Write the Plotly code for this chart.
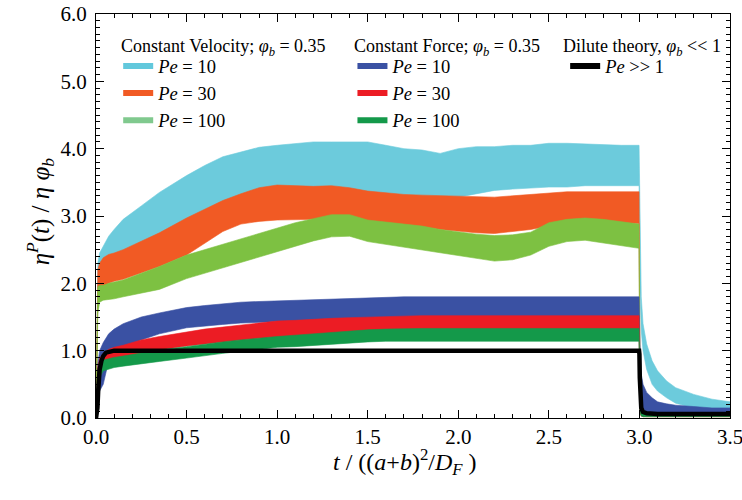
import plotly.graph_objects as go

# ---------------- data ----------------
T = [0, 0.004, 0.01, 0.02, 0.04, 0.07, 0.1, 0.15, 0.25, 0.35, 0.5, 0.6, 0.7, 0.8, 0.9,
     1.0, 1.1, 1.2, 1.3, 1.4, 1.5, 1.6, 1.7, 1.8, 1.9, 2.0, 2.1, 2.2, 2.3, 2.4, 2.5,
     2.6, 2.7, 2.8, 2.9, 2.998, 3.003, 3.01, 3.02, 3.04, 3.07, 3.1, 3.15, 3.2, 3.3, 3.4, 3.5]

# Constant velocity, Pe = 10 (noise band: lower / upper envelope)
CV10_LO = [0, 0.6, 1.7, 2.0, 2.05, 2.15, 2.2, 2.3, 2.45, 2.65, 2.9, 3.05, 3.2, 3.3, 3.35,
           3.38, 3.4, 3.4, 3.38, 3.35, 3.3, 3.28, 3.25, 3.23, 3.22, 3.28, 3.33, 3.38, 3.4, 3.42, 3.43,
           3.43, 3.45, 3.45, 3.45, 3.45, 1.9, 1.3, 1.0, 0.72, 0.5, 0.4, 0.3, 0.22, 0.15, 0.1, 0.08]
CV10_HI = [0, 1.4, 2.3, 2.45, 2.55, 2.7, 2.8, 2.95, 3.15, 3.35, 3.6, 3.75, 3.88, 3.95, 4.02,
           4.05, 4.08, 4.1, 4.1, 4.1, 4.1, 4.05, 4.0, 3.98, 3.93, 4.0, 4.03, 4.03, 4.05, 4.05, 4.08,
           4.08, 4.07, 4.05, 4.05, 4.05, 2.8, 1.8, 1.4, 1.1, 0.85, 0.7, 0.55, 0.45, 0.35, 0.28, 0.24]
# Constant velocity, Pe = 30
CV30_LO = [0, 0.5, 1.7, 1.9, 1.95, 2.0, 2.03, 2.06, 2.15, 2.25, 2.42, 2.6, 2.77, 2.88, 2.92,
           2.94, 2.95, 2.95, 2.95, 2.94, 2.92, 2.88, 2.86, 2.84, 2.8, 2.77, 2.75, 2.74, 2.77, 2.8, 2.85,
           2.89, 2.9, 2.9, 2.89, 2.89, 0.2, 0.04, 0.03, 0.02, 0.02, 0.02, 0.02, 0.02, 0.02, 0.02, 0.02]
CV30_HI = [0, 1.2, 2.2, 2.3, 2.38, 2.43, 2.45, 2.5, 2.62, 2.75, 2.97, 3.1, 3.23, 3.33, 3.42,
           3.46, 3.45, 3.44, 3.45, 3.42, 3.37, 3.34, 3.32, 3.31, 3.3, 3.29, 3.28, 3.28, 3.3, 3.32, 3.34,
           3.36, 3.36, 3.36, 3.36, 3.36, 0.6, 0.15, 0.1, 0.08, 0.07, 0.07, 0.06, 0.06, 0.06, 0.06, 0.06]
# Constant velocity, Pe = 100
CV100_LO = [0, 0.4, 1.55, 1.72, 1.75, 1.76, 1.77, 1.8, 1.85, 1.91, 2.07, 2.15, 2.24, 2.32, 2.4,
            2.48, 2.55, 2.63, 2.69, 2.7, 2.62, 2.58, 2.54, 2.5, 2.45, 2.41, 2.37, 2.33, 2.35, 2.42, 2.55,
            2.62, 2.64, 2.6, 2.56, 2.52, 0.1, 0.03, 0.02, 0.02, 0.02, 0.02, 0.02, 0.02, 0.02, 0.02, 0.02]
CV100_HI = [0, 1.0, 1.95, 1.97, 1.97, 2.0, 2.02, 2.05, 2.15, 2.25, 2.42, 2.5, 2.59, 2.67, 2.75,
            2.82, 2.9, 2.96, 3.02, 3.02, 2.94, 2.91, 2.88, 2.85, 2.8, 2.76, 2.73, 2.71, 2.72, 2.76, 2.9,
            2.95, 2.97, 2.95, 2.92, 2.88, 0.4, 0.1, 0.07, 0.07, 0.06, 0.06, 0.06, 0.06, 0.06, 0.06, 0.06]
# Constant force, Pe = 10
CF10_LO = [0, 0.05, 0.25, 0.4, 0.5, 0.85, 0.97, 1.05, 1.16, 1.25, 1.34, 1.37, 1.39, 1.41, 1.42,
           1.44, 1.45, 1.46, 1.47, 1.48, 1.48, 1.5, 1.5, 1.5, 1.5, 1.5, 1.5, 1.5, 1.5, 1.5, 1.5,
           1.5, 1.5, 1.5, 1.5, 1.5, 0.6, 0.3, 0.15, 0.08, 0.06, 0.05, 0.04, 0.04, 0.04, 0.04, 0.04]
CF10_HI = [0, 0.4, 0.8, 1.0, 1.12, 1.25, 1.32, 1.4, 1.5, 1.56, 1.64, 1.67, 1.7, 1.72, 1.73,
           1.74, 1.75, 1.76, 1.77, 1.78, 1.78, 1.8, 1.8, 1.8, 1.8, 1.8, 1.8, 1.8, 1.8, 1.8, 1.8,
           1.8, 1.8, 1.8, 1.8, 1.8, 1.1, 0.65, 0.5, 0.38, 0.3, 0.24, 0.21, 0.19, 0.17, 0.15, 0.15]
# Constant force, Pe = 30
CF30_LO = [0, 0.05, 0.35, 0.6, 0.76, 0.83, 0.87, 0.9, 0.96, 1.01, 1.07, 1.1, 1.13, 1.16, 1.18,
           1.2, 1.21, 1.23, 1.24, 1.25, 1.26, 1.28, 1.29, 1.3, 1.3, 1.3, 1.3, 1.3, 1.3, 1.3, 1.3,
           1.3, 1.3, 1.3, 1.3, 1.3, 0.1, 0.03, 0.02, 0.02, 0.02, 0.02, 0.02, 0.02, 0.02, 0.02, 0.02]
CF30_HI = [0, 0.35, 0.75, 0.88, 0.96, 1.02, 1.05, 1.08, 1.16, 1.21, 1.28, 1.32, 1.35, 1.38, 1.41,
           1.44, 1.45, 1.47, 1.48, 1.49, 1.5, 1.51, 1.52, 1.52, 1.52, 1.52, 1.52, 1.52, 1.52, 1.52, 1.52,
           1.52, 1.52, 1.52, 1.52, 1.52, 0.4, 0.12, 0.08, 0.08, 0.07, 0.07, 0.07, 0.07, 0.07, 0.07, 0.07]
# Constant force, Pe = 100
CF100_LO = [0, 0.05, 0.35, 0.6, 0.7, 0.73, 0.75, 0.77, 0.81, 0.84, 0.89, 0.93, 0.96, 0.99, 1.02,
            1.05, 1.06, 1.08, 1.1, 1.12, 1.13, 1.14, 1.14, 1.14, 1.14, 1.14, 1.14, 1.14, 1.14, 1.14, 1.14,
            1.14, 1.14, 1.14, 1.14, 1.14, 0.1, 0.03, 0.02, 0.02, 0.02, 0.02, 0.02, 0.02, 0.02, 0.02, 0.02]
CF100_HI = [0, 0.3, 0.7, 0.8, 0.86, 0.88, 0.9, 0.92, 0.97, 1.01, 1.06, 1.1, 1.13, 1.16, 1.19,
            1.21, 1.23, 1.25, 1.28, 1.3, 1.31, 1.32, 1.33, 1.33, 1.33, 1.33, 1.33, 1.33, 1.33, 1.33, 1.33,
            1.33, 1.33, 1.33, 1.33, 1.33, 0.35, 0.1, 0.07, 0.07, 0.06, 0.06, 0.06, 0.06, 0.06, 0.06, 0.06]

# Dilute theory, Pe >> 1
T_THEORY = [0, 0.008, 0.012, 0.016, 0.02, 0.03, 0.04, 0.055, 0.08, 0.1, 2.998, 3.0, 3.002,
            3.005, 3.01, 3.02, 3.04, 3.1, 3.5]
Y_THEORY = [0, 0.15, 0.4, 0.6, 0.72, 0.85, 0.92, 0.97, 0.995, 1.0, 1.0, 0.95, 0.6,
            0.3, 0.15, 0.09, 0.07, 0.06, 0.06]

LEGEND_TITLES = ["Constant Velocity; <i>φ</i><sub><i>b</i></sub> = 0.35",
                 "Constant Force; <i>φ</i><sub><i>b</i></sub> = 0.35",
                 "Dilute theory, <i>φ</i><sub><i>b</i></sub> << 1"]

# ---------------- styling ----------------
FONT = "Liberation Serif"
series = [
    ("legend", "10", CV10_LO, CV10_HI, "#6ccbdc", "#62c8dc"),
    ("legend", "30", CV30_LO, CV30_HI, "#f15a24", "#f15a24"),
    ("legend", "100", CV100_LO, CV100_HI, "#7dc142", "#80c98e"),
    ("legend2", "10", CF10_LO, CF10_HI, "#3a51a3", "#3a51a3"),
    ("legend2", "30", CF30_LO, CF30_HI, "#ec1c24", "#ec1c24"),
    ("legend2", "100", CF100_LO, CF100_HI, "#14994a", "#14994a"),
]

fig = go.Figure()

for lg, pe, lo, hi, col, lcol in series:
    fig.add_trace(go.Scatter(x=T, y=lo, mode="lines", line=dict(width=0.6, color=col),
                             showlegend=False, hoverinfo="skip"))
    fig.add_trace(go.Scatter(x=T, y=hi, mode="lines", line=dict(width=0.6, color=col),
                             fill="tonexty", fillcolor=col, showlegend=False, hoverinfo="skip"))

fig.add_trace(go.Scatter(x=T_THEORY, y=Y_THEORY, mode="lines",
                         line=dict(width=4.5, color="black"), showlegend=False))

# legend-only entries
for lg, pe, lo, hi, col, lcol in series:
    fig.add_trace(go.Scatter(x=[None], y=[None], mode="lines", line=dict(width=6, color=lcol),
                             name=f"<i>Pe</i> = {pe}", legend=lg, showlegend=True))
fig.add_trace(go.Scatter(x=[None], y=[None], mode="lines", line=dict(width=6, color="black"),
                         name="<i>Pe</i> >> 1", legend="legend3", showlegend=True))

LEG_Y = 0.917

def legend_cfg(x):
    return dict(
        x=x, y=LEG_Y, xanchor="left", yanchor="top",
        bgcolor="rgba(0,0,0,0)", borderwidth=0, traceorder="normal",
        font=dict(family=FONT, size=18.5, color="black"),
        tracegroupgap=0, itemwidth=30,
    )

axis_common = dict(
    showline=True, linecolor="black", linewidth=1.2, mirror="allticks",
    ticks="inside", ticklen=8, tickwidth=1, tickcolor="black",
    showgrid=False, zeroline=False, tickformat=".1f", ticklabeloverflow="allow",
    automargin=False,
    tickfont=dict(family=FONT, size=21, color="black"),
    minor=dict(ticks="inside", ticklen=4, tickwidth=1, tickcolor="black", dtick=0.1, showgrid=False),
)

title_x = [0.0362, 0.404, 0.734]
annotations = [
    dict(text=txt, xref="paper", yref="paper", x=xx, y=0.918, xanchor="left", yanchor="middle",
         showarrow=False, font=dict(family=FONT, size=18, color="black"))
    for txt, xx in zip(LEGEND_TITLES, title_x)
]
annotations += [
    dict(text="<i>η</i><sup><i>P</i></sup>(<i>t</i>) / <i>η</i> <i>φ</i><sub><i>b</i></sub>",
         xref="paper", yref="paper", x=-0.088, y=0.512, textangle=-90,
         xanchor="center", yanchor="middle",
         showarrow=False, font=dict(family=FONT, size=25, color="black")),
    dict(text="<i>t</i> / ((<i>a</i>+<i>b</i>)<sup>2</sup>/<i>D</i><sub><i>F</i></sub> )",
         xref="paper", yref="paper", x=0.488, y=-0.109,
         xanchor="center", yanchor="middle",
         showarrow=False, font=dict(family=FONT, size=24, color="black")),
]

fig.update_layout(
    width=742, height=500,
    margin=dict(l=96, r=12, t=14, b=82),
    plot_bgcolor="white", paper_bgcolor="white",
    xaxis=dict(range=[0, 3.5], dtick=0.5, **axis_common),
    yaxis=dict(range=[0, 6], dtick=1, ticklabelstandoff=4, **axis_common),
    legend=legend_cfg(0.035),
    legend2=legend_cfg(0.4045),
    legend3=legend_cfg(0.74),
    annotations=annotations,
)

fig.write_html("out.html")
